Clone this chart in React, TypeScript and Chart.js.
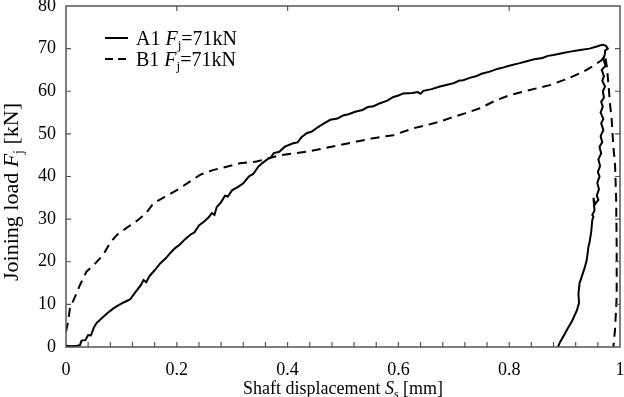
import React, { useEffect, useRef } from "react";
import { Chart, registerables } from "chart.js";

Chart.register(...registerables);

// ---- data ----
const a1X = [0, 0.01, 0.02, 0.025, 0.028, 0.035, 0.04, 0.045, 0.05, 0.055, 0.065, 0.075, 0.085, 0.095, 0.105, 0.116, 0.125, 0.135, 0.14, 0.145, 0.15, 0.16, 0.17, 0.18, 0.19, 0.197, 0.205, 0.215, 0.225, 0.232, 0.24, 0.25, 0.258, 0.263, 0.268, 0.272, 0.28, 0.287, 0.292, 0.3, 0.31, 0.32, 0.33, 0.338, 0.347, 0.355, 0.362, 0.37, 0.375, 0.385, 0.395, 0.41, 0.418, 0.425, 0.435, 0.443, 0.455, 0.465, 0.477, 0.49, 0.5, 0.51, 0.522, 0.535, 0.545, 0.555, 0.567, 0.58, 0.59, 0.6, 0.609, 0.625, 0.635, 0.64, 0.645, 0.66, 0.675, 0.69, 0.7, 0.71, 0.717, 0.73, 0.74, 0.75, 0.765, 0.78, 0.79, 0.8, 0.819, 0.83, 0.845, 0.86, 0.87, 0.88, 0.895, 0.91, 0.928, 0.945, 0.958, 0.965, 0.97, 0.975, 0.978, 0.973, 0.973, 0.97, 0.974, 0.967, 0.971, 0.968, 0.973, 0.969, 0.971, 0.966, 0.969, 0.965, 0.97, 0.966, 0.97, 0.965, 0.968, 0.963, 0.966, 0.961, 0.964, 0.96, 0.963, 0.959, 0.962, 0.958, 0.961, 0.955, 0.952, 0.954, 0.95, 0.952, 0.95, 0.948, 0.945, 0.943, 0.94, 0.936, 0.931, 0.927, 0.925, 0.926, 0.922, 0.913, 0.904, 0.9, 0.892, 0.888];
const a1Y = [0.3, 0.2, 0.3, 0.4, 1.5, 1.6, 2.8, 2.7, 4.5, 5.6, 6.8, 8.0, 9.0, 9.8, 10.5, 11.2, 12.8, 14.5, 15.7, 15.2, 16.5, 18.0, 19.6, 20.8, 22.3, 23.2, 24.0, 25.3, 26.4, 26.9, 28.5, 29.5, 30.5, 31.4, 31.0, 32.8, 34.0, 35.5, 35.3, 36.8, 37.5, 38.4, 40.0, 40.6, 42.3, 43.2, 43.9, 44.5, 45.5, 45.8, 47.0, 47.8, 48.0, 49.2, 50.2, 50.5, 51.6, 52.4, 53.3, 53.6, 54.3, 54.6, 55.2, 55.6, 56.3, 56.5, 57.2, 57.8, 58.6, 59.0, 59.5, 59.6, 59.8, 59.4, 60.1, 60.5, 61.1, 61.6, 61.9, 62.5, 62.6, 63.2, 63.5, 64.1, 64.6, 65.3, 65.6, 66.0, 66.6, 67.0, 67.5, 67.8, 68.3, 68.5, 68.9, 69.3, 69.7, 70.0, 70.5, 70.8, 70.9, 70.6, 70.0, 69.5, 68.9, 67.5, 66.0, 65.0, 63.5, 62.5, 61.1, 60.0, 58.5, 57.5, 56.4, 55.0, 53.5, 52.5, 50.9, 49.5, 48.0, 47.0, 45.4, 44.0, 42.5, 41.0, 40.0, 38.5, 37.0, 35.5, 34.5, 33.5, 35.0, 32.0, 31.0, 30.6, 29.8, 27.0, 24.5, 23.5, 20.4, 18.5, 16.5, 15.0, 12.5, 10.3, 8.5, 6.0, 4.0, 3.0, 1.2, 0.0];

const b1X = [0, 0.004, 0.007, 0.016, 0.025, 0.037, 0.05, 0.067, 0.08, 0.092, 0.11, 0.13, 0.145, 0.158, 0.175, 0.2, 0.22, 0.242, 0.265, 0.29, 0.314, 0.344, 0.386, 0.434, 0.465, 0.495, 0.525, 0.555, 0.591, 0.627, 0.65, 0.675, 0.693, 0.72, 0.747, 0.775, 0.801, 0.825, 0.85, 0.875, 0.898, 0.915, 0.934, 0.95, 0.967, 0.973, 0.976, 0.979, 0.982, 0.985, 0.988, 0.991, 0.993, 0.994, 0.994, 0.991, 0.988];
const b1Y = [3.6, 6.0, 9.1, 11.7, 14.5, 17.7, 19.2, 21.6, 24.5, 26.3, 28.0, 29.8, 31.5, 33.7, 35.0, 36.8, 38.5, 40.4, 41.5, 42.3, 43.1, 43.5, 45.0, 45.8, 46.6, 47.4, 48.2, 49.0, 49.7, 51.3, 52.0, 52.9, 53.7, 54.8, 56.0, 57.8, 59.1, 59.9, 60.7, 61.5, 62.6, 63.5, 64.6, 65.8, 67.3, 68.5, 66.0, 61.9, 57.0, 53.3, 47.0, 43.1, 35.0, 23.5, 11.8, 4.0, 0.0];

const xTickLabels = ["0", "0.2", "0.4", "0.6", "0.8", "1"];
const yTickLabels = ["0", "10", "20", "30", "40", "50", "60", "70", "80"];

const seriesNames = ["A1", "B1"];
const legendLoad = "71kN";

const FONT = "'Liberation Serif', 'Times New Roman', serif";

type Seg = { t: string; it?: boolean; sub?: boolean };

function drawRich(ctx: CanvasRenderingContext2D, segs: Seg[], x: number, y: number, size: number, align: "left" | "center") {
  const fontFor = (s: Seg) => `${s.it ? "italic " : ""}${s.sub ? Math.round(size * 0.65) : size}px ${FONT}`;
  let total = 0;
  segs.forEach((s) => {
    ctx.font = fontFor(s);
    total += ctx.measureText(s.t).width;
  });
  let cx = align === "center" ? x - total / 2 : x;
  ctx.textBaseline = "alphabetic";
  ctx.textAlign = "left";
  segs.forEach((s) => {
    ctx.font = fontFor(s);
    ctx.fillText(s.t, cx, s.sub ? y + size * 0.22 : y);
    cx += ctx.measureText(s.t).width;
  });
}

const decorPlugin = {
  id: "decor",
  afterDatasetsDraw(chart: any) {
    const { ctx, chartArea, scales } = chart;
    const { left, right, top, bottom } = chartArea;
    const xs = scales.x;
    const ys = scales.y;
    ctx.save();
    ctx.strokeStyle = "#555";
    ctx.lineWidth = 1.5;
    ctx.strokeRect(left, top, right - left, bottom - top);
    ctx.lineWidth = 1.2;
    ctx.beginPath();
    const L = 5;
    for (let i = 1; i < 25; i++) {
      const px = xs.getPixelForValue(i * 0.04);
      ctx.moveTo(px, bottom);
      ctx.lineTo(px, bottom - L);
    }
    for (let i = 1; i < 5; i++) {
      const px = xs.getPixelForValue(i * 0.2);
      ctx.moveTo(px, top);
      ctx.lineTo(px, top + L);
    }
    for (let v = 10; v < 80; v += 10) {
      const py = ys.getPixelForValue(v);
      ctx.moveTo(left, py);
      ctx.lineTo(left + L, py);
      ctx.moveTo(right, py);
      ctx.lineTo(right - L, py);
    }
    ctx.stroke();

    // legend
    ctx.fillStyle = "#000";
    ctx.strokeStyle = "#000";
    ctx.lineWidth = 2;
    const ly1 = 38;
    const ly2 = 59;
    ctx.beginPath();
    ctx.moveTo(105, ly1);
    ctx.lineTo(128, ly1);
    ctx.stroke();
    ctx.setLineDash([8, 5]);
    ctx.beginPath();
    ctx.moveTo(105, ly2);
    ctx.lineTo(129, ly2);
    ctx.stroke();
    ctx.setLineDash([]);
    drawRich(ctx, [{ t: seriesNames[0] + " " }, { t: "F", it: true }, { t: "j", sub: true }, { t: "=" + legendLoad }], 136, ly1 + 7, 20, "left");
    drawRich(ctx, [{ t: seriesNames[1] + " " }, { t: "F", it: true }, { t: "j", sub: true }, { t: "=" + legendLoad }], 136, ly2 + 7, 20, "left");

    // x title
    drawRich(ctx, [{ t: "Shaft displacement " }, { t: "S", it: true }, { t: "s", sub: true }, { t: " [mm]" }], (left + right) / 2, 394, 18, "center");
    // y title
    ctx.translate(18, 192);
    ctx.rotate(-Math.PI / 2);
    drawRich(ctx, [{ t: "Joining load " }, { t: "F", it: true }, { t: "j", sub: true }, { t: " [kN]" }], 0, 0, 22, "center");
    ctx.restore();
  },
};

export default function App() {
  const ref = useRef<HTMLCanvasElement | null>(null);
  useEffect(() => {
    document.body.style.margin = "0";
    const canvas = ref.current!;
    const chart = new Chart(canvas, {
      type: "scatter",
      data: {
        datasets: [
          {
            label: seriesNames[0],
            data: a1X.map((x, i) => ({ x, y: a1Y[i] })),
            showLine: true,
            borderColor: "#000",
            borderWidth: 2,
            pointRadius: 0,
            tension: 0,
          },
          {
            label: seriesNames[1],
            data: b1X.map((x, i) => ({ x, y: b1Y[i] })),
            showLine: true,
            borderColor: "#000",
            borderWidth: 2,
            borderDash: [9, 6],
            pointRadius: 0,
            tension: 0,
          },
        ],
      },
      options: {
        responsive: false,
        animation: false,
        devicePixelRatio: 1,
        layout: { padding: { top: 6, right: 4, left: 0, bottom: 0 } },
        plugins: { legend: { display: false }, tooltip: { enabled: false } },
        scales: {
          x: {
            type: "linear",
            min: 0,
            max: 1,
            afterFit: (s: any) => {
              s.height = 50;
              s.paddingLeft = 0;
              s.paddingRight = 0;
            },
            grid: { display: false, drawTicks: false },
            border: { display: false },
            ticks: {
              stepSize: 0.2,
              padding: 12,
              color: "#000",
              font: { family: FONT, size: 18 },
              maxRotation: 0,
              callback: (v: any) => xTickLabels[Math.round(Number(v) / 0.2)] ?? "",
            },
          },
          y: {
            type: "linear",
            min: 0,
            max: 80,
            afterFit: (s: any) => {
              s.width = 66;
              s.paddingTop = 0;
              s.paddingBottom = 0;
            },
            grid: { display: false, drawTicks: false },
            border: { display: false },
            ticks: {
              stepSize: 10,
              padding: 10,
              color: "#000",
              font: { family: FONT, size: 18 },
              callback: (v: any) => yTickLabels[Math.round(Number(v) / 10)] ?? "",
            },
          },
        },
      } as any,
      plugins: [decorPlugin],
    });
    return () => chart.destroy();
  }, []);
  return (
    <div style={{ position: "absolute", left: 0, top: 0, width: 624, height: 397, background: "#fff" }}>
      <canvas ref={ref} width={624} height={397} />
    </div>
  );
}
